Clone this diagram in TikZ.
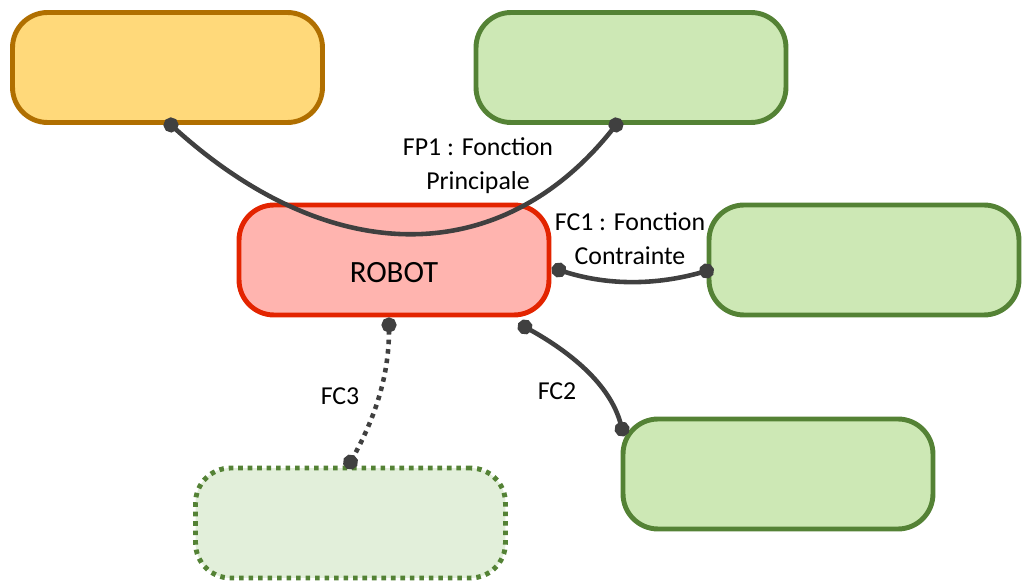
\documentclass[tikz,border=0pt]{standalone}
\usepackage{fontspec}
\setmainfont{Carlito}
\usepackage{xcolor}
\definecolor{robotfill}{RGB}{255,180,175}
\definecolor{robotline}{RGB}{227,36,0}
\definecolor{orfill}{RGB}{255,217,122}
\definecolor{orline}{RGB}{176,111,0}
\definecolor{vertfill}{RGB}{205,232,181}
\definecolor{vertline}{RGB}{84,130,53}
\definecolor{vertpale}{RGB}{226,239,218}
\definecolor{liengris}{RGB}{64,64,64}
\usepackage{tikz}
\usetikzlibrary{positioning,arrows.meta}

\tikzset{
  bloc/.style={draw,line width=2.8pt,rounded corners=0.7cm,minimum width=6.2cm,minimum height=2.2cm,inner sep=0pt},
  lien/.style={draw=liengris,line width=2.6pt,{Circle[length=0.3cm]}-{Circle[length=0.3cm]},shorten <=-0.15cm,shorten >=-0.15cm},
  etiq/.style={font=\fontsize{14.7}{19.3}\selectfont,align=center,inner sep=0pt}
}

\begin{document}
\begin{tikzpicture}[x=0.02cm,y=-0.02cm]
\useasboundingbox (0,0) rectangle (1022,584);

% les blocs
\node[bloc,draw=orline,fill=orfill] (elemA) at (167.5,67.5) {};
\node[bloc,draw=vertline,fill=vertfill] (elemB) at (631,67.5) {};
\node[bloc,draw=robotline,fill=robotfill,font=\fontsize{17.6}{21}\selectfont,text height=26pt,text depth=0pt] (robot) at (394,260) {ROBOT};
\node[bloc,draw=vertline,fill=vertfill] (elemC) at (864,260) {};
\node[bloc,draw=vertline,fill=vertfill] (elemD) at (778,474) {};
\node[bloc,draw=vertline,fill=vertpale,dash pattern=on 2.6pt off 2.8pt] (elemE) at (350.5,523) {};

% les fonctions
\draw[lien] ([xshift=0.07cm]elemA.south) .. controls +(159,144) and +(-115,145) .. ([xshift=-0.3cm]elemB.south);
\draw[lien] ([xshift=0.15cm,yshift=-0.2cm]robot.east) .. controls +(50,16) and +(-50,14) .. ([yshift=-0.22cm]elemC.west);
\draw[lien] ([xshift=-0.53cm,yshift=-0.19cm]robot.south east) .. controls +(45,25) and +(-12,-45) .. ([xshift=0.03cm,yshift=-0.25cm]elemD.north west);
\draw[lien,dash pattern=on 2.6pt off 2.8pt] ([xshift=-0.1cm,yshift=-0.15cm]robot.south) .. controls +(0,55) and +(22,-40) .. ([yshift=0.07cm]elemE.north);

\node[etiq] (fp1) at (478,166) {FP1 : Fonction\\Principale};
\node[etiq] (fc1) at (630,239) {FC1 : Fonction\\Contrainte};
\node[etiq] (fc2) at (557,391) {FC2};
\node[etiq] (fc3) at (340,396) {FC3};
\end{tikzpicture}
\end{document}
